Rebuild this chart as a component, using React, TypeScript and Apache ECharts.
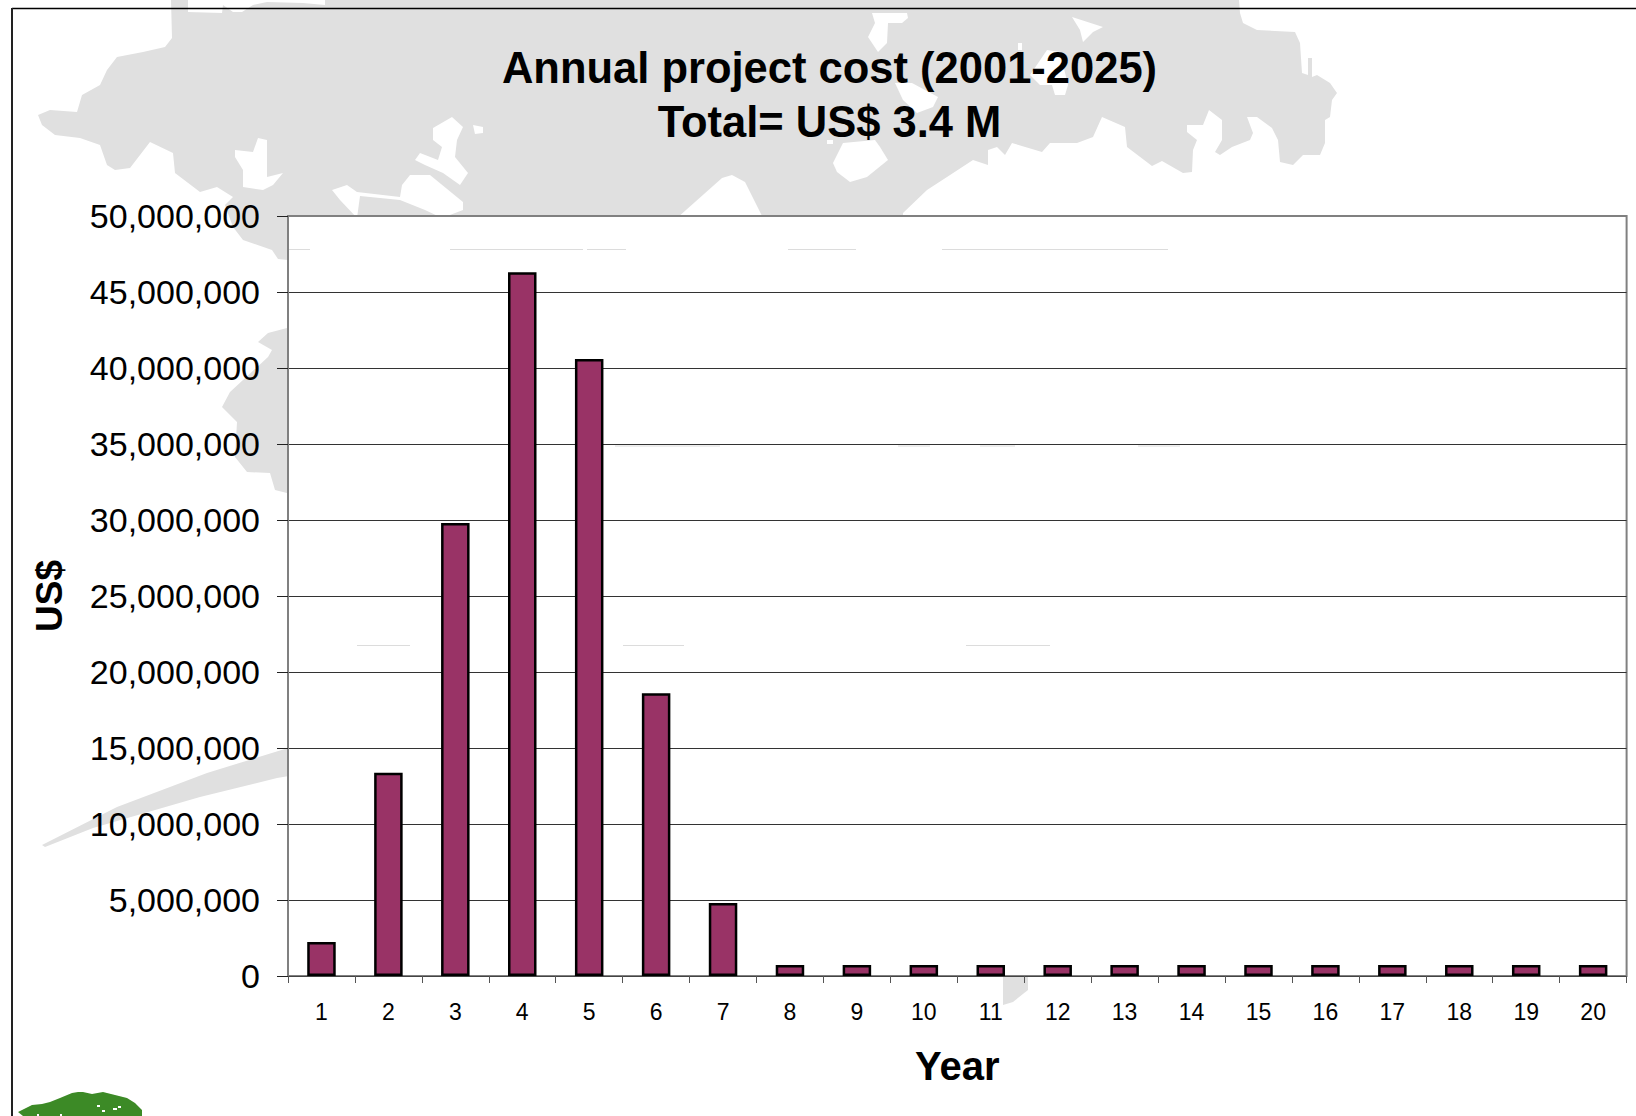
import React, { useEffect, useRef } from "react";
import * as echarts from "echarts";

const categories = ["1","2","3","4","5","6","7","8","9","10","11","12","13","14","15","16","17","18","19","20"];
const annualCost = [2240000,13370000,29800000,46300000,40600000,18600000,4800000,720000,720000,720000,720000,720000,720000,720000,720000,720000,720000,720000,720000,720000];
const yTickLabels = ["0","5,000,000","10,000,000","15,000,000","20,000,000","25,000,000","30,000,000","35,000,000","40,000,000","45,000,000","50,000,000"];
const titleText = "Annual project cost (2001-2025)\nTotal= US$ 3.4 M";

// Decorative background: grey map silhouette behind the chart
const mainland = [[171,0],[172,38],[165,47],[143,52],[117,57],[107,70],[100,85],[82,95],[77,112],[50,110],[38,115],[42,125],[55,135],[80,138],[100,145],[107,165],[115,170],[130,168],[150,142],[173,153],[175,173],[200,192],[217,187],[233,197],[225,205],[233,227],[243,240],[272,250],[278,259],[288,260],[295,260],[295,225],[903,225],[903,213],[927,190],[947,177],[973,160],[988,165],[988,150],[997,147],[1005,155],[1012,143],[1042,152],[1050,143],[1077,143],[1093,137],[1102,117],[1125,127],[1127,147],[1152,166],[1162,161],[1183,173],[1192,172],[1193,150],[1197,140],[1187,132],[1187,125],[1203,125],[1209,110],[1222,120],[1222,140],[1215,152],[1220,155],[1232,147],[1250,140],[1253,133],[1247,117],[1257,117],[1272,128],[1278,140],[1280,162],[1293,165],[1303,155],[1320,155],[1325,143],[1325,120],[1330,117],[1332,100],[1337,93],[1330,83],[1317,75],[1312,77],[1312,58],[1308,58],[1308,75],[1302,73],[1300,43],[1295,32],[1257,30],[1243,23],[1240,13],[1239,0]];
const westBlob = [[295,328],[287,328],[268,333],[258,342],[272,350],[268,357],[243,380],[230,392],[222,407],[237,422],[235,457],[247,472],[270,473],[275,490],[287,493],[295,493]];
const wedge = [[295,746],[288,748],[207,773],[117,807],[42,845],[45,847],[93,828],[200,797],[277,778],[295,775]];
const southTip = [[1003,970],[1028,970],[1028,990],[1013,1002],[1003,1005]];
const holes = [
  [[188,0],[188,12],[222,13],[223,5],[233,12],[242,12],[253,5],[267,2],[303,3],[325,5],[325,0]],
  [[258,138],[267,140],[267,177],[283,173],[273,185],[263,190],[243,187],[243,170],[235,157],[235,150],[253,152]],
  [[452,117],[463,127],[457,140],[455,157],[468,173],[460,185],[443,173],[425,165],[415,160],[420,153],[438,160],[442,147],[433,140],[433,128]],
  [[473,125],[483,127],[483,133],[475,134]],
  [[332,190],[347,185],[357,192],[400,197],[402,185],[410,175],[430,175],[463,202],[463,210],[442,218],[425,210],[400,200],[360,196],[357,218],[340,200]],
  [[722,178],[732,175],[745,182],[763,218],[677,218]],
  [[872,13],[907,13],[908,18],[902,23],[888,23],[887,43],[878,52],[868,37],[875,23]],
  [[1072,17],[1103,27],[1093,32],[1083,42],[1080,30]],
  [[1018,43],[1022,43],[1022,50],[1018,50]],
  [[1030,75],[1047,50],[1060,52],[1068,85],[1065,95],[1055,95],[1052,85],[1040,85]],
  [[895,83],[912,83],[938,97],[933,107],[917,113],[903,100]],
  [[833,163],[843,143],[875,140],[880,147],[888,160],[867,177],[850,182],[837,172]],
  [[827,140],[833,140],[833,144],[827,144]],
];
const treeCrown = [[18,1112],[32,1105],[42,1104],[50,1102],[60,1098],[72,1093],[78,1092],[83,1092],[92,1094],[103,1092],[115,1095],[127,1098],[135,1103],[142,1110],[142,1116],[23,1116]];
const treeSpecks = [[97,1105,3,2],[102,1110,3,2],[113,1108,4,2],[118,1106,3,2],[60,1114,2,2],[37,1114,2,2]];
const faintLines = [[288,310,249.5],[450,583,249.5],[587,626,249.5],[788,856,249.5],[942,1168,249.5],[615,720,446],[898,930,446],[980,1015,446],[1138,1180,446],[357,410,645.5],[623,684,645.5],[966,1050,645.5]];

const MAP_GREY = "#e0e0e0";

export default function App() {
  const ref = useRef<HTMLDivElement>(null);
  useEffect(() => {
    document.body.style.margin = "0";
    const chart = echarts.init(ref.current!, undefined, { renderer: "svg" });
    const poly = (points: number[][], fill: string, z: number) => ({
      type: "polygon", silent: true, z, shape: { points }, style: { fill },
    });
    chart.setOption({
      animation: false,
      backgroundColor: "#ffffff",
      title: {
        text: titleText,
        left: 824.5,
        top: 36,
        textAlign: "center",
        textStyle: { fontFamily: "Liberation Sans", fontWeight: "bold", fontSize: 43.5, lineHeight: 54, color: "#000" },
      },
      graphic: {
        elements: [
          poly(mainland, MAP_GREY, -20),
          poly(westBlob, MAP_GREY, -20),
          poly(wedge, MAP_GREY, -20),
          poly(southTip, MAP_GREY, -20),
          ...holes.map((h) => poly(h, "#ffffff", -19)),
          poly(treeCrown, "#3c8a26", -19),
          ...treeSpecks.map(([x, y, width, height]) => ({
            type: "rect", silent: true, z: -18, shape: { x, y, width, height }, style: { fill: "#ffffff" },
          })),
          { type: "rect", silent: true, z: -10, shape: { x: 288, y: 216, width: 1339, height: 760 }, style: { fill: "#ffffff" } },
          ...faintLines.map(([a, b, y]) => ({
            type: "line", silent: true, z: -9, shape: { x1: a, y1: y, x2: b, y2: y }, style: { stroke: "#dcdcdc", lineWidth: 1 },
          })),
          { type: "line", silent: true, z: -5, shape: { x1: 12, y1: 8.5, x2: 1636, y2: 8.5 }, style: { stroke: "#000", lineWidth: 1.5 } },
          { type: "line", silent: true, z: -5, shape: { x1: 12, y1: 8, x2: 12, y2: 1116 }, style: { stroke: "#222", lineWidth: 2 } },
        ],
      },
      grid: {
        left: 288, top: 216, width: 1338.6, height: 760,
        show: true, backgroundColor: "transparent", borderColor: "#808080", borderWidth: 2,
      },
      xAxis: {
        type: "category",
        data: categories,
        name: "Year",
        nameLocation: "middle",
        nameGap: 70,
        nameTextStyle: { fontFamily: "Liberation Sans", fontWeight: "bold", fontSize: 40, color: "#000" },
        axisLine: { show: true, lineStyle: { color: "#444", width: 1 } },
        axisTick: { show: true, length: 7, lineStyle: { color: "#555", width: 1 } },
        axisLabel: { fontFamily: "Liberation Sans", fontSize: 23, color: "#000", margin: 24, interval: 0 },
        splitLine: { show: false },
      },
      yAxis: {
        type: "value",
        min: 0,
        max: 50000000,
        interval: 5000000,
        name: "US$",
        nameLocation: "middle",
        nameGap: 220,
        nameTextStyle: { fontFamily: "Liberation Sans", fontWeight: "bold", fontSize: 37, color: "#000" },
        axisLine: { show: true, lineStyle: { color: "#808080", width: 2 } },
        axisTick: { show: true, length: 11, lineStyle: { color: "#222", width: 1 } },
        axisLabel: {
          fontFamily: "Liberation Sans", fontSize: 34, color: "#000", margin: 28,
          formatter: (_v: number, i: number) => yTickLabels[i],
        },
        splitLine: { show: true, showMaxLine: false, lineStyle: { color: "#333", width: 1, type: "solid" } },
      },
      series: [
        {
          type: "bar",
          data: annualCost,
          barWidth: 28.5,
          itemStyle: { color: "#993366", borderColor: "#000", borderWidth: 2.5 },
        },
      ],
    });
    return () => chart.dispose();
  }, []);
  return <div ref={ref} style={{ position: "absolute", left: 0, top: 0, width: 1636, height: 1116 }} />;
}
